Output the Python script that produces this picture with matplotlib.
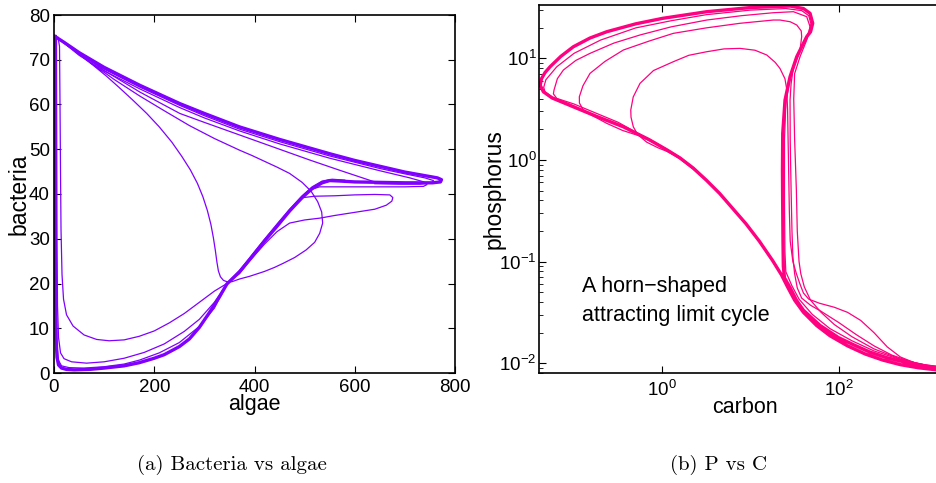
import numpy as np
import matplotlib.pyplot as plt
from matplotlib.ticker import FixedLocator, NullLocator, LogLocator, NullFormatter

plt.rcParams['font.family'] = 'Liberation Sans'

purple = '#8000ff'
pink = '#ff0080'

# ---- panel (a): bacteria vs algae (algae, bacteria)
lc_ab = [(2, 75.2), (20, 73.9), (50, 71.6), (100, 68.3), (171, 64.3), (251, 60.2), (300, 58.0),
         (370, 55.0), (450, 52.2), (500, 50.6), (550, 49.0), (600, 47.5), (650, 46.2), (700, 44.9),
         (740, 44.1), (765, 43.6), (773, 43.2), (771, 42.7), (755, 42.5), (700, 42.5), (650, 42.6),
         (600, 42.7), (570, 42.9), (550, 43.0), (535, 42.5), (515, 41.2), (495, 39.2), (470, 36.2),
         (445, 32.8), (420, 29.5), (390, 25.3), (370, 22.6), (345, 19.9), (330, 17.0), (310, 13.5),
         (290, 10.2), (270, 7.6), (250, 5.9), (220, 4.1), (200, 3.3), (170, 2.3), (140, 1.6),
         (100, 1.1), (70, 0.8), (40, 0.7), (25, 0.8), (15, 1.1), (9, 1.8), (6, 3.5), (4, 8),
         (3, 20), (2.5, 40), (2, 60), (2, 75.2)]
inner_ab = [(5, 75), (25, 73.4), (50, 71.2), (80, 68.6), (105, 66.3), (130, 63.8), (158, 60.9),
            (185, 58.0), (210, 55.0), (235, 51.6), (255, 48.4), (272, 45.4), (286, 42.4), (297, 39.4),
            (306, 36.3), (313, 33.2), (318, 30.2), (322, 27.3), (325, 24.8), (328, 22.8), (332, 21.5),
            (338, 20.7), (345, 20.4), (355, 20.4), (370, 21.0), (390, 21.6), (420, 22.7), (440, 23.6),
            (457, 24.5), (480, 25.8), (503, 27.5), (520, 29.2), (530, 31.2), (536, 33.5), (534, 36.0),
            (526, 38.3), (513, 40.6), (495, 42.6), (470, 44.6), (445, 46.0), (420, 47.3), (395, 48.6),
            (370, 49.8), (320, 52.4), (270, 55.3), (220, 58.6), (171, 61.9), (120, 65.6), (80, 68.8),
            (40, 72.2), (5, 75)]
upper1_ab = [(4, 75.1), (50, 71.3), (100, 67.9), (171, 63.9), (251, 59.8), (300, 57.5), (370, 54.5),
             (450, 51.7), (550, 48.5), (650, 45.7), (700, 44.5), (740, 43.6), (757, 43.0), (754, 42.5),
             (730, 42.2), (690, 42.2), (640, 42.3)]
upper2_ab = [(6, 75), (50, 71.0), (100, 67.5), (171, 63.5), (251, 59.3), (300, 57.0), (370, 54.1),
             (450, 51.2), (550, 48.0), (650, 45.2), (710, 43.6), (738, 42.7), (744, 42.1), (737, 41.7),
             (700, 41.6), (640, 41.6), (580, 41.6), (530, 41.6), (512, 41.0)]
upper3_ab = [(5, 75), (40, 72.5), (100, 67.6), (171, 62.8), (251, 58.0), (300, 56.0), (370, 53.2),
             (450, 50.0), (510, 47.6), (570, 45.3), (637, 42.8), (660, 42.5)]
hump_ab = [(345, 20), (370, 22.2), (390, 25.0), (420, 28.8), (445, 31.6), (470, 33.5), (500, 34.2),
           (530, 34.6), (560, 35.2), (600, 35.9), (640, 36.6), (663, 37.5), (674, 38.4), (676, 39.2),
           (670, 39.8), (640, 39.9), (600, 39.8), (560, 39.6), (520, 39.5), (497, 39.2), (480, 37.4)]
diag_ab = [(345, 20), (370, 22.9), (395, 26.4), (420, 29.9), (445, 33.3), (470, 36.6), (495, 39.6),
           (515, 41.6), (535, 42.9), (555, 43.3), (580, 43.1)]
low1_ab = [(8, 75), (11, 73), (12, 60), (13, 45), (14, 32), (16, 22), (19, 16.5), (25, 13), (38, 10.5),
           (60, 8.5), (85, 7.5), (110, 7.2), (140, 7.4), (170, 8.2), (200, 9.4), (230, 11.2),
           (260, 13.3), (290, 15.8), (320, 18.3), (345, 20)]
low2_ab = [(5, 74.5), (5.5, 50), (6, 30), (7, 15), (9, 8), (13, 4.5), (20, 3.2), (35, 2.5), (65, 2.2),
           (100, 2.5), (140, 3.3), (180, 4.6), (220, 6.5), (260, 9.3), (290, 12), (320, 15.8), (345, 19.9)]
low3_ab = [(3, 74.8), (3.5, 40), (4.5, 15), (6, 6), (9, 2.8), (15, 1.6), (30, 1.2), (60, 1.1), (100, 1.4),
           (140, 2.0), (171, 2.9), (210, 4.5), (250, 6.8), (290, 10.4), (320, 14.5), (345, 19.9)]

# ---- panel (b): phosphorus vs carbon, read as (log10 carbon, log10 phosphorus)
lc_cp = [(-1.385, 0.735), (-1.37, 0.80), (-1.33, 0.86), (-1.273, 0.917), (-1.15, 1.02), (-1.009, 1.114),
         (-0.82, 1.20), (-0.63, 1.262), (-0.3, 1.34), (0.005, 1.394), (0.503, 1.459), (1.0, 1.50),
         (1.448, 1.515), (1.60, 1.49), (1.675, 1.443), (1.705, 1.345), (1.68, 1.26), (1.637, 1.213),
         (1.524, 1.016), (1.448, 0.819), (1.391, 0.589), (1.365, 0.261), (1.362, -0.1), (1.364, -0.4),
         (1.368, -0.8), (1.372, -1.05), (1.385, -1.16), (1.45, -1.26), (1.52, -1.38), (1.6, -1.48),
         (1.79, -1.63), (2.0, -1.75), (2.17, -1.82), (2.35, -1.89), (2.54, -1.945), (2.75, -1.99),
         (2.92, -2.02), (3.1, -2.04), (3.3, -2.055), (3.3, -2.075), (3.1, -2.065), (2.9, -2.045),
         (2.7, -2.015), (2.5, -1.97), (2.3, -1.91), (2.1, -1.83), (1.9, -1.73), (1.75, -1.63),
         (1.6, -1.50), (1.5, -1.38), (1.42, -1.25), (1.35, -1.13), (1.25, -0.99), (1.1, -0.80),
         (0.95, -0.63), (0.8, -0.48), (0.65, -0.33), (0.5, -0.2), (0.35, -0.08), (0.2, 0.02),
         (0.05, 0.10), (-0.15, 0.2), (-0.442, 0.326), (-0.75, 0.43), (-1.009, 0.523), (-1.25, 0.61),
         (-1.349, 0.671), (-1.385, 0.735)]
loop1_cp = [(0.65, -0.33), (0.5, -0.2), (0.35, -0.085), (0.2, 0.015), (0.05, 0.085), (-0.05, 0.12),
            (-0.177, 0.175), (-0.28, 0.25), (-0.329, 0.326), (-0.355, 0.42),
            (-0.358, 0.491), (-0.33, 0.62), (-0.253, 0.754), (-0.1, 0.88), (0.125, 0.967), (0.3, 1.03),
            (0.503, 1.065), (0.7, 1.093), (0.881, 1.098), (1.05, 1.08), (1.184, 1.033), (1.28, 0.96),
            (1.334, 0.90), (1.39, 0.80), (1.41, 0.70), (1.42, 0.5), (1.43, 0.0), (1.44, -0.5),
            (1.45, -0.8), (1.48, -1.0), (1.52, -1.12), (1.56, -1.22), (1.60, -1.31), (1.66, -1.37),
            (1.78, -1.41), (1.95, -1.45), (2.10, -1.50), (2.25, -1.58), (2.40, -1.70), (2.55, -1.84),
            (2.7, -1.94), (2.9, -2.01), (3.1, -2.045), (3.3, -2.06)]
loop2_cp = [(0.65, -0.335), (0.5, -0.205), (0.35, -0.09), (0.2, 0.01), (0.05, 0.095), (-0.1, 0.17),
            (-0.253, 0.235), (-0.45, 0.29), (-0.63, 0.36), (-0.8, 0.44), (-0.896, 0.491),
            (-0.94, 0.56), (-0.941, 0.622), (-0.90, 0.73), (-0.82, 0.852), (-0.65, 0.97), (-0.442, 1.082),
            (-0.15, 1.17), (0.125, 1.246), (0.5, 1.30), (0.881, 1.345), (1.259, 1.377), (1.334, 1.377),
            (1.45, 1.36), (1.524, 1.328), (1.575, 1.27), (1.580, 1.213), (1.561, 1.082), (1.486, 0.917),
            (1.46, 0.75), (1.448, 0.589), (1.45, 0.2), (1.46, -0.3), (1.47, -0.7), (1.48, -0.95),
            (1.50, -1.12), (1.53, -1.26), (1.58, -1.36), (1.68, -1.43), (1.8, -1.49), (2.0, -1.60),
            (2.2, -1.72), (2.4, -1.83), (2.6, -1.92), (2.85, -1.995), (3.1, -2.04), (3.3, -2.06)]
loop3_cp = [(0.5, -0.195), (0.35, -0.075), (0.2, 0.025), (0.05, 0.105), (-0.15, 0.205),
            (-0.253, 0.25), (-0.5, 0.37), (-0.82, 0.485), (-1.0, 0.55), (-1.197, 0.606),
            (-1.235, 0.65), (-1.228, 0.688), (-1.19, 0.80), (-1.122, 0.885), (-0.98, 0.98), (-0.82, 1.049),
            (-0.55, 1.15), (-0.253, 1.23), (0.1, 1.31), (0.503, 1.377), (0.9, 1.42), (1.259, 1.449),
            (1.486, 1.459), (1.637, 1.41), (1.675, 1.311), (1.66, 1.25), (1.637, 1.18), (1.561, 1.016),
            (1.50, 0.85), (1.49, 0.6), (1.50, 0.2), (1.52, -0.3), (1.53, -0.7), (1.55, -1.0),
            (1.57, -1.12), (1.61, -1.25), (1.68, -1.38), (1.8, -1.50), (1.95, -1.62), (2.15, -1.74),
            (2.4, -1.86), (2.7, -1.96), (3.0, -2.025), (3.3, -2.06)]
loop4_cp = [(-0.442, 0.33), (-0.75, 0.435), (-1.0, 0.53), (-1.25, 0.62), (-1.33, 0.67), (-1.345, 0.714),
            (-1.32, 0.79), (-1.197, 0.917),
            (-1.0, 1.05), (-0.7, 1.18), (-0.3, 1.30), (0.1, 1.37), (0.5, 1.43), (1.0, 1.475), (1.4, 1.49),
            (1.58, 1.47), (1.66, 1.42), (1.685, 1.34), (1.66, 1.26), (1.60, 1.15), (1.52, 0.98),
            (1.44, 0.78), (1.40, 0.55), (1.385, 0.2), (1.385, -0.4), (1.39, -0.9), (1.40, -1.1),
            (1.47, -1.24), (1.55, -1.37), (1.7, -1.52), (1.9, -1.66), (2.15, -1.78), (2.4, -1.88),
            (2.7, -1.965), (3.0, -2.02), (3.3, -2.05)]


def xy(pts):
    a = np.array(pts, dtype=float)
    return a[:, 0], a[:, 1]


fig = plt.figure(figsize=(9.37, 4.83), dpi=100)
ax1 = fig.add_axes([54 / 937, 1 - 373 / 483, 401 / 937, 358 / 483])
ax2 = fig.add_axes([539.3 / 937, 1 - 373 / 483, (951 - 539.3) / 937, 368 / 483])

# panel (a)
for pts in [inner_ab, upper1_ab, upper2_ab, upper3_ab, hump_ab, diag_ab, low1_ab, low2_ab, low3_ab]:
    ax1.plot(*xy(pts), color=purple, lw=0.9, solid_joinstyle='round')
ax1.plot(*xy(lc_ab), color=purple, lw=2.4, solid_joinstyle='round')
ax1.set_xlim(0, 800)
ax1.set_ylim(0, 80)
ax1.set_xticks(range(0, 801, 200))
ax1.set_yticks(range(0, 81, 10))
ax1.set_xlabel('algae', fontsize=15.5, va='top')
ax1.set_ylabel('bacteria', fontsize=16.5)
ax1.xaxis.set_label_coords(0.5, -0.06)
ax1.yaxis.set_label_coords(-0.058, 0.5)

# panel (b)
for pts in [loop1_cp, loop2_cp, loop3_cp, loop4_cp]:
    c, p = xy(pts)
    ax2.plot(10 ** c, 10 ** p, color=pink, lw=0.9, solid_joinstyle='round')
c, p = xy(lc_cp)
ax2.plot(10 ** c, 10 ** p, color=pink, lw=2.4, solid_joinstyle='round')
ax2.set_xscale('log')
ax2.set_yscale('log')
ax2.set_xlim(10 ** -1.395, 10 ** 3.273)
ax2.set_ylim(10 ** -2.097, 10 ** 1.525)
ax2.xaxis.set_major_locator(FixedLocator([1, 100]))
ax2.xaxis.set_minor_locator(NullLocator())
ax2.yaxis.set_minor_locator(LogLocator(subs=np.arange(2, 10)))
ax2.yaxis.set_minor_formatter(NullFormatter())
ax2.set_xlabel('carbon', fontsize=15.5, va='top')
ax2.set_ylabel('phosphorus', fontsize=16.5)
ax2.xaxis.set_label_coords(0.5, -0.064)
ax2.yaxis.set_label_coords(-0.082, 0.5)
ax2.text(0.103, 0.264, 'A horn\u2212shaped\nattracting limit cycle', transform=ax2.transAxes,
         fontsize=15.5, ha='left', va='top', linespacing=1.5)

for ax in (ax1, ax2):
    ax.tick_params(which='both', direction='in', top=True, right=True, labelsize=13.5)
    ax.tick_params(which='major', length=5, width=0.8)
    ax.tick_params(which='minor', length=3, width=0.6)
    for s in ax.spines.values():
        s.set_linewidth(1.2)
ax1.tick_params(axis='y', pad=3)
ax1.tick_params(axis='x', pad=4)
ax2.tick_params(axis='y', pad=2)
ax2.tick_params(axis='x', pad=5)

fig.text(232 / 937, 1 - 465 / 483, '(a) Bacteria vs algae', fontfamily='cmr10', fontsize=15,
         ha='center', va='center')
fig.text(719 / 937, 1 - 465 / 483, '(b) P vs C', fontfamily='cmr10', fontsize=15,
         ha='center', va='center')

fig.savefig('out.png', dpi=100)
